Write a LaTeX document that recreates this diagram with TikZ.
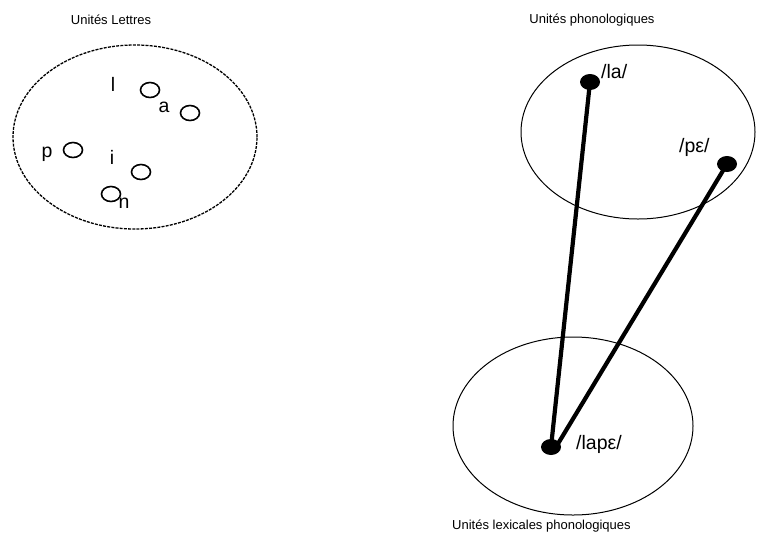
\documentclass[tikz,border=0pt]{standalone}
\usepackage{fontspec}
\setmainfont{Liberation Sans}
\usetikzlibrary{shapes.geometric}
\begin{document}
\begin{tikzpicture}[x=1pt,y=-1pt,
  title/.style={font=\fontsize{13}{15}\selectfont, inner sep=0pt},
  lbl/.style={font=\fontsize{19.5}{22}\selectfont, inner sep=0pt},
  ocirc/.style={draw, line width=1.6pt, ellipse, minimum width=19pt, minimum height=15pt, inner sep=0pt},
  bdot/.style={fill=black, ellipse, minimum width=20pt, minimum height=16pt, inner sep=0pt},
  conn/.style={line width=4.2pt}]
\useasboundingbox (0,0) rectangle (757,536);
\fill[white] (0,0) rectangle (757,536);
% left group
\node[title] (t1) at (111,20) {Unités Lettres};
\node[draw, dash pattern=on 3pt off 1.2pt, line width=1.3pt, ellipse, minimum width=244pt, minimum height=184pt] (e1) at (135,137) {};
\node[ocirc] (c1) at (150,90) {};
\node[ocirc] (c2) at (190,113) {};
\node[ocirc] (c3) at (73,150) {};
\node[ocirc] (c4) at (141,172) {};
\node[ocirc] (c5) at (111,194) {};
\node[lbl] (l1) at (113,84) {l};
\node[lbl] (l2) at (164,107) {a};
\node[lbl] (l3) at (47,154) {p};
\node[lbl] (l4) at (112,157) {i};
\node[lbl] (l5) at (124,203) {n};
% right top
\node[title] (t2) at (592,20) {Unités phonologiques};
\node[draw, line width=1pt, ellipse, minimum width=234pt, minimum height=174pt] (e2) at (638,132) {};
\node[bdot] (d1) at (590,82) {};
\node[bdot] (d2) at (727,164) {};
\node[lbl, anchor=west] (la) at (601,72) {/la/};
\node[lbl, anchor=west] (pe) at (679,147) {/pε/};
% right bottom
\node[draw, line width=1pt, ellipse, minimum width=240pt, minimum height=178pt] (e3) at (573,426) {};
\node[bdot] (d3) at (551,447) {};
\node[lbl, anchor=west] (lape) at (576,444) {/lapε/};
\node[title, anchor=west] (t3) at (452,526) {Unités lexicales phonologiques};
% connectors
\draw[conn] (d1.center) -- (d3.center);
\draw[conn] (d2.center) -- ([xshift=5pt]d3.center);
\end{tikzpicture}
\end{document}
